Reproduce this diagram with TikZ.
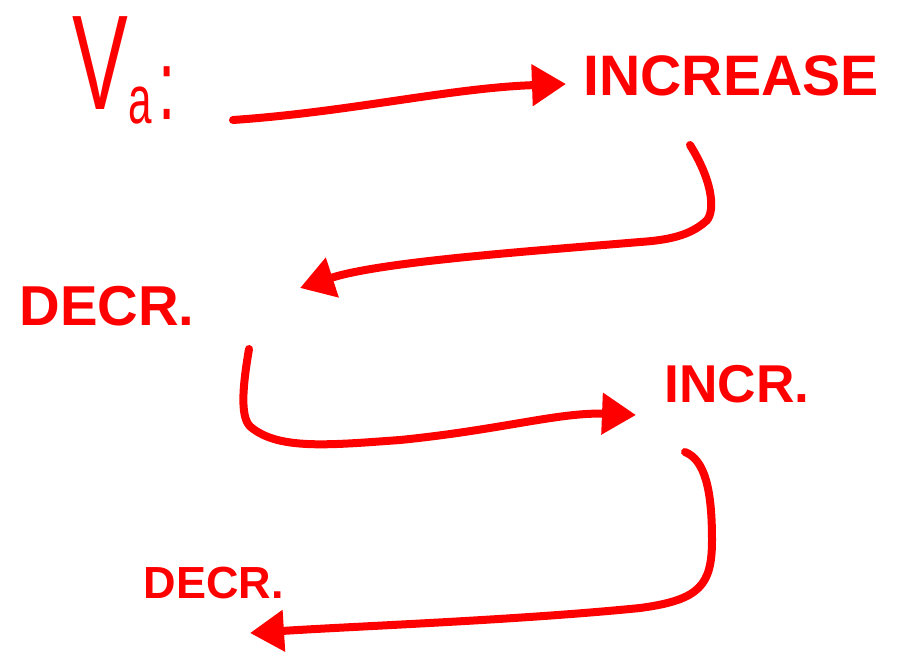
\documentclass[tikz,border=0pt]{standalone}
\usepackage{fontspec}
\setmainfont{Liberation Sans}
\usetikzlibrary{arrows.meta}
\definecolor{ink}{RGB}{255,0,0}
\tikzset{
  word/.style={text=ink, font=\bfseries, inner sep=0pt, anchor=center},
  stroke/.style={draw=ink, line width=8pt, line cap=round, line join=round,
    -{Triangle[length=34pt,width=40pt]}},
}
\begin{document}
\begin{tikzpicture}[x=1pt,y=-1pt]
\useasboundingbox (0,0) rectangle (907,656);
% texts
\node[word, font=\fontsize{135}{135}\selectfont] (vg) at (124,70) {\scalebox{0.62}[1]{V\raisebox{-14pt}{\fontsize{68}{68}\selectfont a}\kern10pt\raisebox{-10pt}{\fontsize{100}{100}\selectfont :}}};
\node[word, font=\bfseries\fontsize{58}{58}\selectfont] (inc1) at (731,76) {\resizebox{295pt}{!}{INCREASE}};
\node[word, font=\bfseries\fontsize{52}{52}\selectfont] (dec1) at (107,306) {\resizebox{175pt}{!}{DECR.}};
\node[word, font=\bfseries\fontsize{52}{52}\selectfont] (inc2) at (737,384) {\resizebox{145pt}{!}{INCR.}};
\node[word, font=\bfseries\fontsize{46}{46}\selectfont] (dec2) at (214,583) {\resizebox{140pt}{!}{DECR.}};
% anchor coordinates for connectors
\coordinate (a1s) at (233,120);
\coordinate (a1e) at (566,84);
\coordinate (a2s) at (690,145);
\coordinate (a2e) at (300,288);
\coordinate (a3s) at (249,349);
\coordinate (a3e) at (636,415);
\coordinate (a4s) at (685,452);
\coordinate (a4e) at (250,633);
% connectors
\draw[stroke] (a1s) .. controls (350,112) and (450,88) .. (a1e);
\draw[stroke] (a2s) .. controls (715,185) and (715,215) .. (705,222)
  .. controls (690,235) and (670,240) .. (640,242)
  .. controls (520,252) and (380,262) .. (a2e);
\draw[stroke] (a3s) .. controls (242,390) and (240,420) .. (252,428)
  .. controls (280,450) and (330,445) .. (400,440)
  .. controls (500,430) and (560,412) .. (a3e);
\draw[stroke] (a4s) .. controls (705,460) and (712,490) .. (712,540)
  .. controls (712,585) and (700,600) .. (640,608)
  .. controls (520,620) and (360,626) .. (a4e);
\end{tikzpicture}
\end{document}
